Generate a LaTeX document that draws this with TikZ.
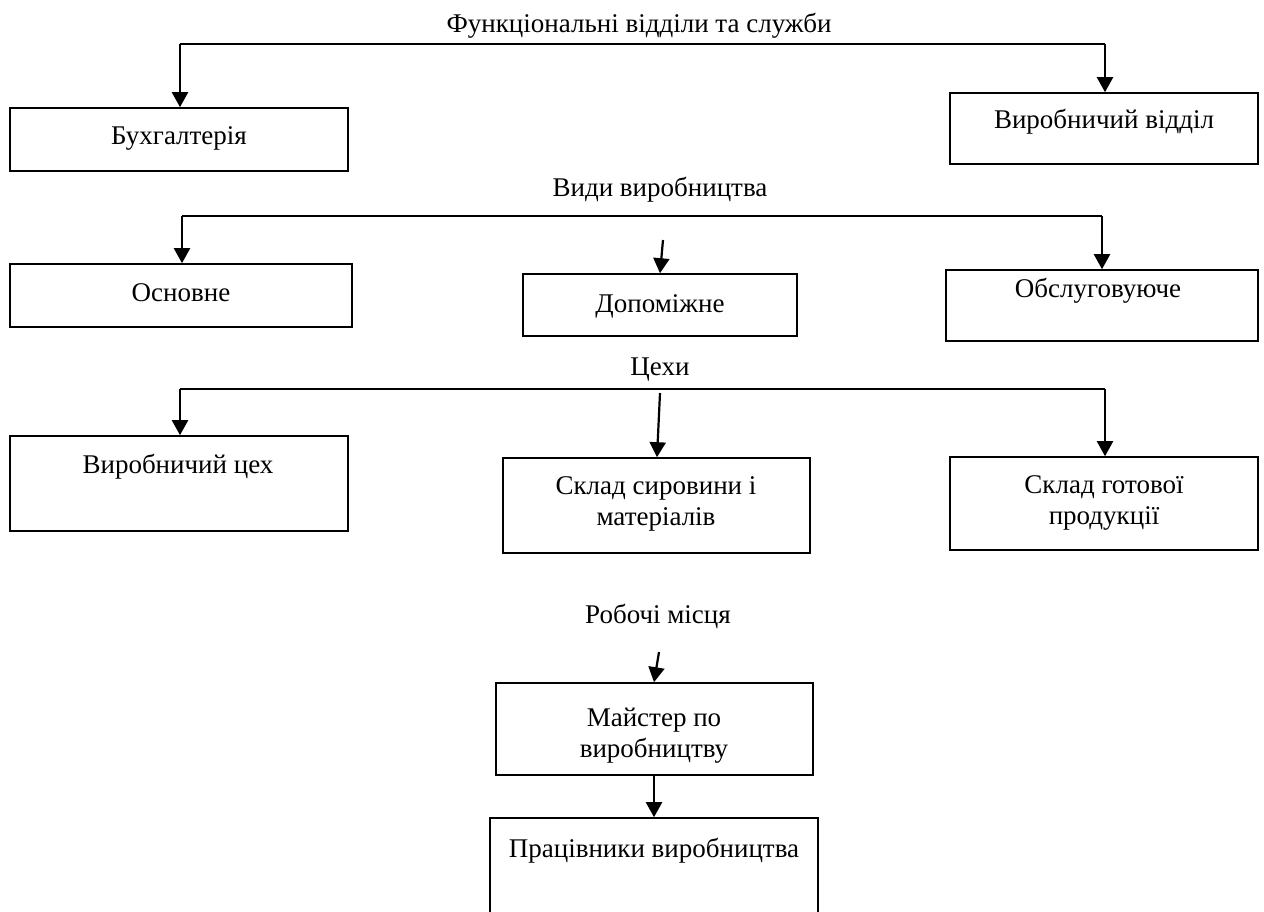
\documentclass[tikz,border=0pt]{standalone}
\usepackage{fontspec}
\setmainfont{Liberation Serif}
\usetikzlibrary{arrows.meta}
\tikzset{
  x=1pt,y=-1pt,
  box/.style={draw,line width=1.6pt,inner sep=0pt},
  lbl/.style={inner sep=0pt,anchor=base,align=center,font=\fontsize{27}{31}\selectfont},
  bar/.style={line width=2.2pt},
  arr/.style={line width=2.2pt,-{Triangle[length=15pt,width=16pt]}},
}
\newcommand{\mkbox}[5]{\node[box,minimum width=#4-#2,minimum height=#5-#3] (#1) at ({(#2+#4)/2},{(#3+#5)/2}) {};}
\begin{document}
\begin{tikzpicture}
\useasboundingbox (0,0) rectangle (1264,911);
\clip (0,0) rectangle (1264,911);
% boxes
\mkbox{b1}{10}{108}{348}{171}
\mkbox{b2}{950}{93}{1258}{164}
\mkbox{c1}{10}{264}{352}{327}
\mkbox{c2}{523}{274}{797}{336}
\mkbox{c3}{946}{270}{1258}{341}
\mkbox{d1}{10}{436}{348}{531}
\mkbox{d2}{503}{458}{810}{553}
\mkbox{d3}{950}{457}{1258}{550}
\mkbox{e1}{496}{683}{813}{775}
\mkbox{e2}{490}{818}{818}{960}
% texts (multi-line nodes: base = last line)
\node[lbl] (tf) at (639,32) {Функціональні відділи та служби};
\node[lbl] (tv) at (660,196) {Види виробництва};
\node[lbl] (tc) at (660,375) {Цехи};
\node[lbl] (tr) at (658,623) {Робочі місця};
\node[lbl] (tb1) at (179,144) {Бухгалтерія};
\node[lbl] (tb2) at (1104,128) {Виробничий відділ};
\node[lbl] (tc1) at (181,301) {Основне};
\node[lbl] (tc2) at (660,312) {Допоміжне};
\node[lbl] (tc3) at (1098,297) {Обслуговуюче};
\node[lbl] (td1) at (178,473) {Виробничий цех};
\node[lbl] (td2) at (656,525) {Склад сировини і\\матеріалів};
\node[lbl] (td3) at (1104,524) {Склад готової\\продукції};
\node[lbl] (te1) at (654,757) {Майстер по\\виробництву};
\node[lbl] (te2) at (654,857) {Працівники виробництва};
% bar coordinates
\coordinate (f1) at (180,44);
\coordinate (f2) at (1105,44);
\coordinate (g1) at (182,216);
\coordinate (g2) at (1102,216);
\coordinate (g3) at (663,240);
\coordinate (h1) at (180,389);
\coordinate (h2) at (1105,389);
\coordinate (h3) at (660,393);
\coordinate (r1) at (659,652);
% connectors
\draw[bar] (f1) -- (f2);
\draw[arr] (f1) -- (f1 |- b1.north);
\draw[arr] (f2) -- (f2 |- b2.north);
\draw[bar] (g1) -- (g2);
\draw[arr] (g1) -- (g1 |- c1.north);
\draw[arr] (g2) -- (g2 |- c3.north);
\draw[arr] (g3) -- ([xshift=-3pt]c2.north -| g3);
\draw[bar] (h1) -- (h2);
\draw[arr] (h1) -- (h1 |- d1.north);
\draw[arr] (h2) -- (h2 |- d3.north);
\draw[arr] (h3) -- ([xshift=-3pt]d2.north -| h3);
\draw[arr] (r1) -- ([xshift=-5pt]e1.north -| r1);
\draw[arr] (e1.south -| 654,0) -- (e2.north -| 654,0);
\end{tikzpicture}
\end{document}
